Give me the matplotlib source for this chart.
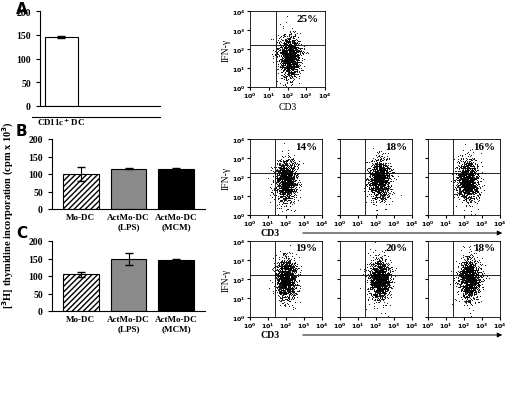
import numpy as np
import matplotlib
matplotlib.use("Agg")
import matplotlib.pyplot as plt
from matplotlib.patches import FancyArrowPatch

plt.rcParams["font.family"] = ["Liberation Serif", "DejaVu Serif"]
plt.rcParams["font.weight"] = "bold"

W, H = 520, 410

# ── Data ─────────────────────────────────────────────────────────────────────
a_labels = ["CD11c$^{+}$ DC"]
a_vals = [145]
a_err = [2]

bc_labels = ["Mo-DC", "ActMo-DC\n(LPS)", "ActMo-DC\n(MCM)"]
b_vals = [100, 115, 113]
b_err = [20, 2, 3]
c_vals = [105, 148, 145]
c_err = [7, 17, 5]

a_pct = ["25%"]
b_pct = ["14%", "18%", "16%"]
c_pct = ["19%", "20%", "18%"]

# cloud centres (log decades of CD3, IFN-g) for the illustrative dot plots
a_centre = [(2.1, 1.6)]
b_centre = [(2.0, 1.8), (2.2, 1.9), (2.2, 1.8)]
c_centre = [(2.0, 2.0), (2.2, 2.0), (2.3, 2.0)]

rng = np.random.default_rng(3)


def rect(x0, y0, x1, y1):
    return [x0 / W, 1 - y1 / H, (x1 - x0) / W, (y1 - y0) / H]


fig = plt.figure(figsize=(W / 100, H / 100), dpi=100)


def bar_panel(box, vals, errs, labels, xlim):
    ax = fig.add_axes(rect(*box))
    x = np.arange(len(vals))
    styles = [dict(color="white", hatch="//////"),
              dict(color="#8a8a8a"),
              dict(color="black")]
    if len(vals) == 1:
        styles = [dict(color="white")]
    for i, v in enumerate(vals):
        ax.bar(x[i], v, width=0.75, edgecolor="black", linewidth=0.8,
               yerr=errs[i], capsize=3, error_kw=dict(lw=0.8), **styles[i])
    ax.set_ylim(0, 200)
    ax.set_yticks([0, 50, 100, 150, 200])
    ax.set_xlim(*xlim)
    ax.set_xticks(x)
    ax.set_xticklabels(labels, fontsize=6.5)
    ax.tick_params(axis="x", length=0, pad=3)
    ax.tick_params(axis="y", labelsize=7, length=3)
    for s in ["top", "right"]:
        ax.spines[s].set_visible(False)
    return ax


def flow_panel(box, centre, pct, first=False):
    ax = fig.add_axes(rect(*box))
    cx, cy = centre
    n = 1400
    xs = np.clip(rng.normal(cx, 0.3, n), 0.05, 3.95)
    ys = np.clip(rng.normal(cy, 0.55, n), 0.05, 3.95)
    ax.scatter(xs, ys, s=0.6, color="black", linewidths=0)
    ax.axvline(1.4, color="black", lw=0.6)
    ax.axhline(2.2, color="black", lw=0.6)
    ax.set_xlim(0, 4)
    ax.set_ylim(0, 4)
    ticks = [0, 1, 2, 3, 4]
    lab = [f"$10^{k}$" for k in ticks]
    ax.set_xticks(ticks)
    ax.set_yticks(ticks)
    ax.set_xticklabels(lab, fontsize=4.5)
    if first:
        ax.set_yticklabels(lab, fontsize=4.5)
        ax.set_ylabel("IFN-γ", fontsize=7, labelpad=1)
    else:
        ax.set_yticklabels([])
    ax.tick_params(length=2, pad=1)
    for s in ax.spines.values():
        s.set_linewidth(0.6)
    ax.text(2.5, 3.5, pct, fontsize=8, fontweight="bold")
    return ax


# Panel A
ax = bar_panel((40, 12, 160, 107), a_vals, a_err, a_labels, (-0.5, 2.3))
ax.set_xticklabels([])
ax.text(0, -20, a_labels[0], ha="center", va="top", fontsize=6.5)
fig.add_artist(plt.Line2D([32 / W, 160 / W], [1 - 118 / H] * 2, color="black", lw=0.8))
fig.text(16 / W, 1 - 2 / H, "A", fontsize=11, fontweight="bold",
         family="DejaVu Sans", va="top")
ax_f = flow_panel((250, 12, 325, 88), a_centre[0], a_pct[0], first=True)
ax_f.set_xlabel("CD3", fontsize=7, labelpad=1)

# Panel B and C
for top, vals, errs, cents, pcts, letter in [
        (140, b_vals, b_err, b_centre, b_pct, "B"),
        (242, c_vals, c_err, c_centre, c_pct, "C")]:
    bar_panel((52, top, 205, top + 70), vals, errs, bc_labels, (-0.6, 2.6))
    fig.text(16 / W, 1 - (top - 16) / H, letter, fontsize=11,
             fontweight="bold", family="DejaVu Sans", va="top")
    for i, x0 in enumerate([250, 340, 428]):
        flow_panel((x0, top, x0 + 72, top + 76), cents[i], pcts[i], first=(i == 0))
    ay = 1 - (top + 94) / H
    fig.add_artist(FancyArrowPatch(
        (300 / W, ay), (505 / W, ay), transform=fig.transFigure,
        arrowstyle="-|>", mutation_scale=7, lw=0.7, color="black"))
    fig.text(270 / W, ay, "CD3", fontsize=7, va="center", ha="center")

fig.text(8 / W, 1 - 215 / H, "[$^{3}$H] thymidine incorporation (cpm x 10$^{3}$)",
         rotation=90, va="center", ha="center", fontsize=7.5)

fig.savefig("out.png", dpi=100, facecolor="white")
